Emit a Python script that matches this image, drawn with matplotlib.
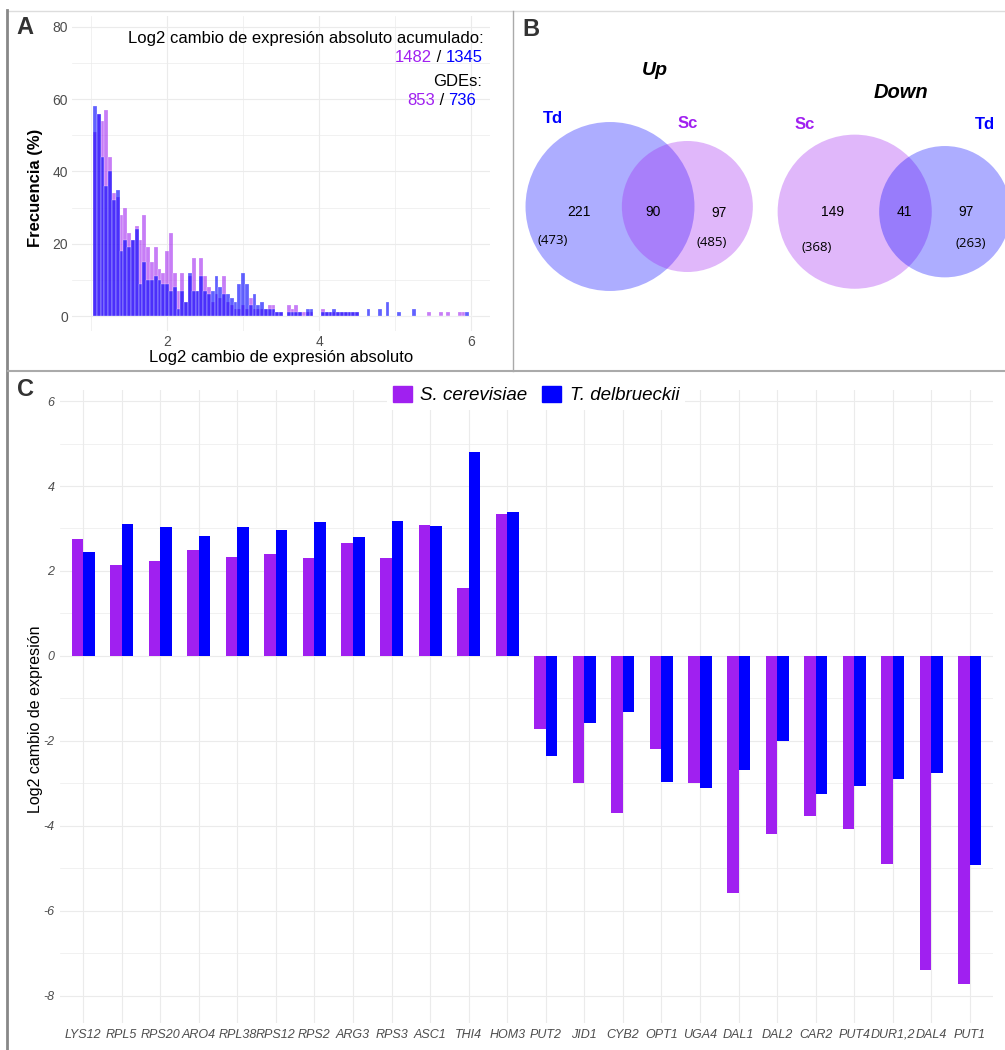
import numpy as np
import matplotlib
matplotlib.use('Agg')
import matplotlib.pyplot as plt
from matplotlib.patches import Circle, Patch
from matplotlib.lines import Line2D
from matplotlib.offsetbox import TextArea, HPacker, AnnotationBbox

plt.rcParams['font.family'] = ['Liberation Sans', 'DejaVu Sans']

W, H = 1005, 1050
SC = '#A020F0'
TD = '#0000FF'
GRID = '#EBEBEB'
TICK = '#4D4D4D'

# %% data
# A: counts of |log2 FC| per 0.05 bin, first bin starts at 1.025
bin_start = 1.025
bin_width = 0.05
hist_sc = [51, 56, 54, 57, 44, 34, 33, 28, 30, 23,
           21, 25, 21, 28, 19, 15, 19, 13, 12, 18,
           23, 12, 7, 12, 4, 11, 16, 7, 16, 11,
           8, 4, 6, 5, 11, 4, 3, 2, 2, 3,
           2, 5, 2, 2, 2, 2, 3, 3, 1, 1,
           0, 3, 2, 3, 1, 1, 1, 1, 0, 0,
           2, 1, 1, 1, 1, 1, 1, 1, 1, 1,
           0, 0, 0, 0, 0, 0, 0, 0, 0, 0,
           0, 0, 0, 0, 0, 0, 0, 0, 1, 0,
           0, 1, 0, 1, 0, 0, 1, 1, 0, 0]
hist_td = [58, 56, 44, 36, 40, 32, 35, 18, 21, 19,
           21, 24, 9, 15, 10, 10, 11, 10, 9, 9,
           7, 8, 2, 7, 4, 12, 7, 7, 11, 7,
           6, 7, 11, 8, 6, 6, 5, 4, 9, 12,
           9, 3, 6, 3, 4, 2, 2, 2, 1, 1,
           0, 1, 1, 1, 1, 0, 2, 2, 0, 0,
           1, 1, 1, 2, 1, 1, 1, 1, 1, 1,
           0, 0, 2, 0, 0, 2, 0, 4, 0, 0,
           1, 0, 0, 0, 2, 0, 0, 0, 0, 0,
           0, 0, 0, 0, 0, 0, 0, 0, 1, 0]
sum_lfc = [1482, 1345]   # Sc / Td
n_gdes = [853, 736]      # Sc / Td

# B: venn counts (left only, shared, right only) and totals per set
up_sets = ['Td', 'Sc']
up_counts = [221, 90, 97]
up_totals = [473, 485]
down_sets = ['Sc', 'Td']
down_counts = [149, 41, 97]
down_totals = [368, 263]

# C: log2 fold change per gene
genes = ['LYS12', 'RPL5', 'RPS20', 'ARO4', 'RPL38', 'RPS12', 'RPS2', 'ARG3',
         'RPS3', 'ASC1', 'THI4', 'HOM3', 'PUT2', 'JID1', 'CYB2', 'OPT1',
         'UGA4', 'DAL1', 'DAL2', 'CAR2', 'PUT4', 'DUR1,2', 'DAL4', 'PUT1']
lfc_sc = [2.75, 2.14, 2.24, 2.49, 2.32, 2.40, 2.30, 2.67, 2.30, 3.08, 1.60, 3.34,
          -1.72, -2.99, -3.69, -2.20, -2.99, -5.59, -4.20, -3.76, -4.08, -4.89, -7.39, -7.73]
lfc_td = [2.45, 3.11, 3.04, 2.82, 3.04, 2.96, 3.15, 2.80, 3.17, 3.07, 4.79, 3.39,
          -2.36, -1.58, -1.33, -2.96, -3.12, -2.69, -2.00, -3.26, -3.05, -2.89, -2.75, -4.91]


def px(x, y):
    return x / W, 1 - y / H


def px_rect(x0, y0, x1, y1):
    return [x0 / W, 1 - y1 / H, (x1 - x0) / W, (y1 - y0) / H]


fig = plt.figure(figsize=(W / 100, H / 100), dpi=100)

# %% panel A
axA = fig.add_axes(px_rect(72, 16, 490, 330.5))
edges = bin_start + bin_width * np.arange(len(hist_sc))
centers = edges + bin_width / 2
axA.bar(centers, hist_sc, width=bin_width, color=SC, alpha=0.58,
        edgecolor='white', linewidth=0.3, zorder=2)
axA.bar(centers, hist_td, width=bin_width, color=TD, alpha=0.62,
        edgecolor='white', linewidth=0.3, zorder=3)
axA.set_xlim(0.75, 6.25)
axA.set_ylim(-4, 83)
axA.set_xticks([2, 4, 6])
axA.set_xticks([1, 3, 5], minor=True)
axA.set_yticks([0, 20, 40, 60, 80])
axA.set_yticks([10, 30, 50, 70], minor=True)
axA.grid(True, which='major', color=GRID, lw=0.8, zorder=0)
axA.grid(True, which='minor', color=GRID, lw=0.5, zorder=0)
axA.set_axisbelow(True)
for s in axA.spines.values():
    s.set_visible(False)
axA.tick_params(which='both', length=0, labelsize=10, labelcolor=TICK, pad=3)
axA.set_xlabel('Log2 cambio de expresión absoluto', fontsize=12, labelpad=1)
axA.set_ylabel('Frecuencia (%)', fontsize=12, fontweight='bold')
axA.yaxis.set_label_coords(-0.069, 0.455)


def colored_pair(ax, vals, y, xr):
    parts = [TextArea(str(vals[0]), textprops=dict(color=SC, fontsize=12)),
             TextArea(' / ', textprops=dict(color='black', fontsize=12)),
             TextArea(str(vals[1]), textprops=dict(color=TD, fontsize=12))]
    box = HPacker(children=parts, sep=0, pad=0, align='baseline')
    ab = AnnotationBbox(box, (xr, y), xycoords='data', box_alignment=(1, 0.5),
                        frameon=False, pad=0)
    ax.add_artist(ab)


axA.text(6.16, 76.7, 'Log2 cambio de expresión absoluto acumulado:',
         ha='right', va='center', fontsize=12)
colored_pair(axA, sum_lfc, 71.4, 6.16)
axA.text(6.14, 65.0, 'GDEs:', ha='right', va='center', fontsize=12)
colored_pair(axA, n_gdes, 59.5, 6.07)

# %% panel B: area-proportional venn diagrams
axB = fig.add_axes(px_rect(514, 12, 1005, 370))
axB.set_xlim(514, 1005)
axB.set_ylim(370, 12)
axB.axis('off')


def lens_area(r1, r2, d):
    if d >= r1 + r2:
        return 0.0
    if d <= abs(r1 - r2):
        return np.pi * min(r1, r2) ** 2
    a1 = r1 ** 2 * np.arccos((d ** 2 + r1 ** 2 - r2 ** 2) / (2 * d * r1))
    a2 = r2 ** 2 * np.arccos((d ** 2 + r2 ** 2 - r1 ** 2) / (2 * d * r2))
    a3 = 0.5 * np.sqrt((-d + r1 + r2) * (d + r1 - r2) * (d - r1 + r2) * (d + r1 + r2))
    return a1 + a2 - a3


def venn2(ax, counts, colors, cx, cy, scale):
    n_left = counts[0] + counts[1]
    n_right = counts[1] + counts[2]
    r1 = scale * np.sqrt(n_left)
    r2 = scale * np.sqrt(n_right)
    target = np.pi * scale ** 2 * counts[1]
    lo, hi = abs(r1 - r2), r1 + r2
    for _ in range(60):
        mid = (lo + hi) / 2
        if lens_area(r1, r2, mid) > target:
            lo = mid
        else:
            hi = mid
    d = (lo + hi) / 2
    ax.add_patch(Circle((cx, cy), r1, color=colors[0], alpha=0.32, lw=0))
    ax.add_patch(Circle((cx + d, cy), r2, color=colors[1], alpha=0.32, lw=0))
    return d


venn2(axB, up_counts, [TD, SC], 610, 206.5, 4.79)
venn2(axB, down_counts, [SC, TD], 854.7, 211.7, 5.59)

set_color = {'Td': TD, 'Sc': SC}
axB.text(655, 70, 'Up', ha='center', va='center', fontsize=14,
         fontweight='bold', style='italic')
axB.text(901, 92, 'Down', ha='center', va='center', fontsize=14.5,
         fontweight='bold', style='italic')
axB.text(553, 118, up_sets[0], color=set_color[up_sets[0]], ha='center', va='center',
         fontsize=12, fontweight='bold')
axB.text(688, 123, up_sets[1], color=set_color[up_sets[1]], ha='center', va='center',
         fontsize=12, fontweight='bold')
axB.text(805, 124, down_sets[0], color=set_color[down_sets[0]], ha='center', va='center',
         fontsize=12, fontweight='bold')
axB.text(985, 124, down_sets[1], color=set_color[down_sets[1]], ha='center', va='center',
         fontsize=12, fontweight='bold')
for (x, y), v in zip([(579, 212), (653, 212), (719, 213)], up_counts):
    axB.text(x, y, str(v), ha='center', va='center', fontsize=10)
for (x, y), v in zip([(832, 212), (904, 212), (966, 212)], down_counts):
    axB.text(x, y, str(v), ha='center', va='center', fontsize=10)
for (x, y), v in zip([(553, 240), (712, 242)], up_totals):
    axB.text(x, y, f'({v})', ha='center', va='center', fontsize=9.5,
             family=['Open Sans', 'DejaVu Sans'])
for (x, y), v in zip([(817, 247), (971, 243)], down_totals):
    axB.text(x, y, f'({v})', ha='center', va='center', fontsize=9.5,
             family=['Open Sans', 'DejaVu Sans'])

# %% panel C
axC = fig.add_axes(px_rect(60, 390, 993, 1023))
xpos = np.arange(1, len(genes) + 1)
bw = 0.3
axC.bar(xpos - bw / 2, lfc_sc, width=bw, color=SC, zorder=2)
axC.bar(xpos + bw / 2, lfc_td, width=bw, color=TD, zorder=2)
axC.set_xlim(0.4, len(genes) + 0.6)
axC.set_ylim(-8.64, 6.26)
axC.set_xticks(xpos)
axC.set_xticklabels(genes, style='italic')
axC.set_yticks(np.arange(-8, 7, 2))
axC.set_yticklabels([str(v) for v in range(-8, 7, 2)], style='italic')
axC.set_yticks(np.arange(-7, 6, 2), minor=True)
axC.grid(True, which='major', color=GRID, lw=0.8, zorder=0)
axC.grid(True, which='minor', axis='y', color=GRID, lw=0.5, zorder=0)
axC.set_axisbelow(True)
for s in axC.spines.values():
    s.set_visible(False)
axC.tick_params(which='both', length=0, labelsize=9, labelcolor=TICK, pad=4)
axC.set_ylabel('Log2 cambio de expresión', fontsize=11.5)
axC.yaxis.set_label_coords(-0.018, 0.48)

fig.legend(handles=[Patch(color=SC, label='S. cerevisiae'),
                    Patch(color=TD, label='T. delbrueckii')],
           loc='center', bbox_to_anchor=px(536, 395), ncol=2,
           frameon=True, facecolor='white', edgecolor='none', framealpha=1,
           prop={'style': 'italic', 'size': 13.5}, handlelength=1.0, handleheight=1.0,
           handletextpad=0.45, columnspacing=0.8, borderpad=0.3)

# %% panel frames and letters
fig.add_artist(Line2D([8 / W, 1], [1 - 11 / H] * 2, color='#DDDDDD', lw=1))
fig.add_artist(Line2D([7 / W] * 2, [0, 1 - 10 / H], color='#888888', lw=2))
fig.add_artist(Line2D([8 / W, 1], [1 - 371 / H] * 2, color='#AAAAAA', lw=1.5))
fig.add_artist(Line2D([513 / W] * 2, [1 - 371 / H, 1 - 11 / H], color='#AAAAAA', lw=1))

for lab, (x, y) in zip('ABC', [(25, 27), (531, 30), (25, 390)]):
    fig.text(*px(x, y), lab, ha='center', va='center', fontsize=17,
             fontweight='bold', color='#333333')

fig.savefig('out.png', dpi=100)
